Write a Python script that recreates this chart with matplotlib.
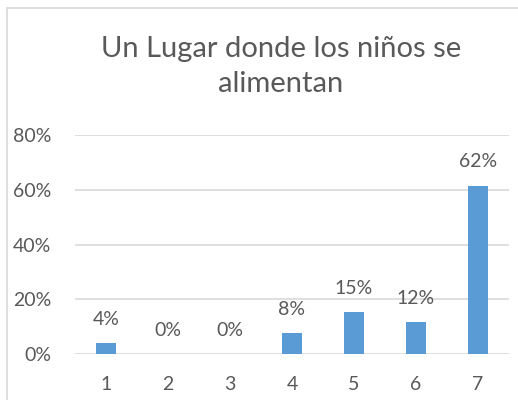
import matplotlib.pyplot as plt
from matplotlib.patches import Rectangle

# datos del grafico
categorias = ['1', '2', '3', '4', '5', '6', '7']
valores = [1/26, 0, 0, 2/26, 4/26, 3/26, 16/26]
etiquetas = ['4%', '0%', '0%', '8%', '15%', '12%', '62%']
ticks_y = [0, 0.2, 0.4, 0.6, 0.8]
ticks_y_txt = ['0%', '20%', '40%', '60%', '80%']

plt.rcParams['font.family'] = ['Lato', 'DejaVu Sans']
gris = '#595959'
azul = '#5B9BD5'

W, H = 518, 400
fig = plt.figure(figsize=(W / 100, H / 100), dpi=100)

# marco del grafico
marco = Rectangle((7 / W, -0.1), 1.2, 1 - 8 / H + 0.1, transform=fig.transFigure,
                  facecolor='white', edgecolor='#d9d9d9', linewidth=1.2, zorder=-5)
fig.patches.append(marco)

ax = fig.add_axes([75 / W, (H - 354) / H, (509 - 75) / W, (354 - 135) / H])
ax.set_facecolor('none')
x = list(range(len(categorias)))
ax.bar(x, valores, width=0.31, color=azul, zorder=3)
for xi, v, t in zip(x, valores, etiquetas):
    ax.annotate(t, (xi, v), xytext=(0, 17), textcoords='offset points',
                ha='center', va='center', fontsize=14, color=gris)

ax.set_xlim(-0.5, len(categorias) - 0.5)
ax.set_ylim(0, 0.8)
ax.set_xticks(x)
ax.set_xticklabels(categorias)
ax.set_yticks(ticks_y)
ax.set_yticklabels(ticks_y_txt)
ax.tick_params(axis='both', length=0, labelsize=14, labelcolor=gris)
ax.tick_params(axis='x', pad=16)
ax.tick_params(axis='y', pad=17)
ax.grid(axis='y', color='#d9d9d9', linewidth=1.2, zorder=0)
for s in ax.spines.values():
    s.set_visible(False)

fig.text(281 / W, 1 - 49 / H, 'Un Lugar donde los niños se', ha='center', va='center',
         fontsize=21, color=gris)
fig.text(281 / W, 1 - 84 / H, 'alimentan', ha='center', va='center',
         fontsize=21, color=gris)

fig.savefig('out.png', dpi=100)
